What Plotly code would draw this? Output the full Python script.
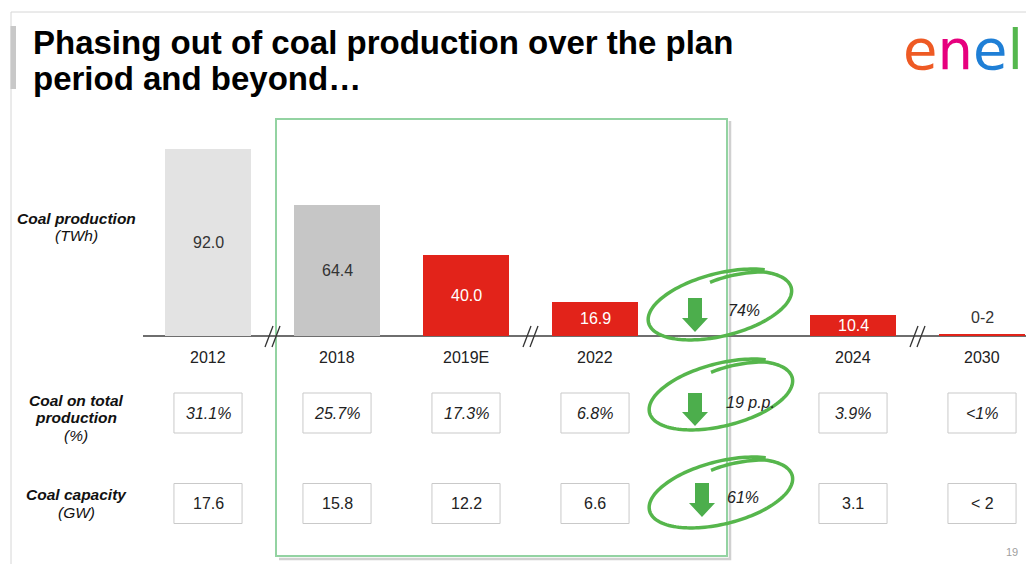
import numpy as np
import plotly.graph_objects as go

# ---------------- data ----------------
categories = ["2012", "2018", "2019E", "2022", "2024", "2030"]
production_twh = [92.0, 64.4, 40.0, 16.9, 10.4, 1.0]
production_labels = ["92.0", "64.4", "40.0", "16.9", "10.4", "0-2"]
coal_share_labels = ["31.1%", "25.7%", "17.3%", "6.8%", "3.9%", "<1%"]
coal_capacity_labels = ["17.6", "15.8", "12.2", "6.6", "3.1", "< 2"]
change_labels = ["74%", "19 p.p.", "61%"]
row_titles = [["<b>Coal production</b>", "(TWh)"],
              ["<b>Coal on total</b>", "<b>production</b>", "(%)"],
              ["<b>Coal capacity</b>", "(GW)"]]
title_lines = ["Phasing out of coal production over the plan", "period and beyond\u2026"]
bar_colors = ["#e3e3e3", "#c6c6c6", "#e2231a", "#e2231a", "#e2231a", "#e2231a"]
label_colors = ["#333333", "#333333", "#ffffff", "#ffffff", "#ffffff", "#333333"]

# ---------------- layout helpers ----------------
W, H = 1026, 564
FONT = "Liberation Sans, Arial, sans-serif"
GREEN = "#56b64c"
X0PX, XSTEP = 208.0, 129.0          # pixel of slot 0, pixels per slot
Y0PX, YSCALE = 336.0, 2.033         # baseline pixel, pixels per TWh

def px(x):
    return x / W

def py(y):
    return 1 - y / H

def note(x, y, text, size=16, color="#222222", xref="paper", yref="paper", xanchor="center", **kw):
    d = dict(x=x, y=y, xref=xref, yref=yref, text=text, showarrow=False,
             xanchor=xanchor, yanchor=kw.pop("yanchor", "middle"),
             font=dict(family=kw.pop("family", FONT), size=size, color=color, **kw.pop("fontkw", {})))
    d.update(kw)
    return d

# slots: one empty slot after 2022 for the change column
slots = [i if i < 4 else i + 1 for i in range(len(categories))]

fig = go.Figure()
fig.add_trace(go.Bar(
    x=slots, y=production_twh, width=0.667,
    marker=dict(color=bar_colors, line=dict(width=0)),
    hoverinfo="skip", showlegend=False,
))

shapes = []
ann = []

# slide frame
shapes.append(dict(type="line", xref="paper", yref="paper", x0=px(11), x1=1, y0=py(12), y1=py(12),
                   line=dict(color="#d6d6d6", width=1), layer="below"))
shapes.append(dict(type="line", xref="paper", yref="paper", x0=px(11), x1=px(11), y0=py(12), y1=0,
                   line=dict(color="#d6d6d6", width=1), layer="below"))
shapes.append(dict(type="rect", xref="paper", yref="paper", x0=px(10.5), x1=px(16), y0=py(89), y1=py(26),
                   fillcolor="#c8c8c8", line=dict(width=0), layer="below"))

# green highlight rectangle with soft shadow
shapes.append(dict(type="path", xref="paper", yref="paper",
                   path=f"M {px(730)},{py(121)} L {px(730)},{py(559)} L {px(279)},{py(559)}",
                   line=dict(color="rgba(120,120,120,0.35)", width=2.5), layer="below"))
shapes.append(dict(type="rect", xref="paper", yref="paper", x0=px(276), x1=px(727), y0=py(556), y1=py(119),
                   line=dict(color="#93d3a2", width=2), layer="below"))

# axis baseline
shapes.append(dict(type="line", xref="x", yref="y", x0=(143 - X0PX) / XSTEP, x1=6.5, y0=0, y1=0,
                   line=dict(color="#6e6e6e", width=2), layer="below"))

# axis break marks "//"
for bx in [0.5, 2.5, 5.5]:
    for off in (-3.5, 3.5):
        shapes.append(dict(type="line", xref="x", yref="y",
                           x0=bx + (off - 4) / XSTEP, x1=bx + (off + 4) / XSTEP,
                           y0=-11 / YSCALE, y1=10 / YSCALE,
                           line=dict(color="#333333", width=1.3), layer="above"))

# bar value labels
for s, v, lab, c in zip(slots, production_twh, production_labels, label_colors):
    if c == "#ffffff" or v > 20:
        ann.append(note(s, v / 2, lab, color=c, xref="x", yref="y"))
    else:
        ann.append(note(s, v, lab, color=c, xref="x", yref="y", yanchor="bottom", yshift=6))

# category labels
for s, cat in zip(slots, categories):
    ann.append(note(s, py(357), cat, xref="x"))

# table rows
BOXW = 0.264
for row_labels, yc, italic in [(coal_share_labels, 413, True), (coal_capacity_labels, 503.5, False)]:
    for s, lab in zip(slots, row_labels):
        shapes.append(dict(type="rect", xref="x", yref="paper", x0=s - BOXW, x1=s + BOXW,
                           y0=py(yc + 20), y1=py(yc - 20),
                           line=dict(color="#c9c9c9", width=1), fillcolor="white", layer="below"))
        ann.append(note(s, py(yc), f"<i>{lab}</i>" if italic else lab, xref="x"))

# row titles
row_title_y = [[218, 235], [400, 417, 435], [494, 512]]
for lines, ys in zip(row_titles, row_title_y):
    for t, yy in zip(lines, ys):
        ann.append(note(px(76), py(yy), f"<i>{t}</i>", size=15.5, color="#111111"))

# hand-drawn loops, arrows and change labels
def loop_path(cx, cy, a=74, b=31, tilt=14):
    t = np.radians(np.linspace(95, -312, 160))
    r = np.interp(np.degrees(t), [-312, 45, 95], [1.03, 0.97, 0.8])
    X = a * r * np.cos(t)
    Y = b * r * np.sin(t)
    ph = np.radians(tilt)
    Xr = X * np.cos(ph) - Y * np.sin(ph)
    Yr = X * np.sin(ph) + Y * np.cos(ph)
    pts = [f"{px(cx + xx):.5f},{py(cy - yy):.5f}" for xx, yy in zip(Xr, Yr)]
    return "M " + " L ".join(pts)

def arrow_path(cx, top, tip):
    head = tip - 14
    p = [(cx - 7, top), (cx + 7, top), (cx + 7, head), (cx + 13, head), (cx, tip),
         (cx - 13, head), (cx - 7, head)]
    return "M " + " L ".join(f"{px(a):.5f},{py(b):.5f}" for a, b in p) + " Z"

loops = [(721, 305, 695, 298, 332, 744, 310),
         (722, 395, 695, 393, 426, 750, 402),
         (722, 493, 702, 483, 517, 743, 497)]
for (cx, cy, ax, atop, atip, tx, ty), lab in zip(loops, change_labels):
    shapes.append(dict(type="path", xref="paper", yref="paper", path=loop_path(cx, cy),
                       line=dict(color=GREEN, width=3.5), layer="above"))
    shapes.append(dict(type="path", xref="paper", yref="paper", path=arrow_path(ax, atop, atip),
                       fillcolor="#4cae4c", line=dict(width=0), layer="above"))
    ann.append(note(px(tx), py(ty), f"<i>{lab}</i>"))

# title
for line, yy in zip(title_lines, [42, 78]):
    ann.append(note(px(31), py(yy), f"<b>{line}</b>", size=33, color="#000000", xanchor="left"))

# logo
logo = ("<span style='color:#ee5a24'>e</span><span style='color:#e6007e'>n</span>"
        "<span style='color:#1f7fd6'>e</span><span style='color:#55b74e'>l</span>")
ann.append(note(px(901), py(50), logo, size=56, color="#999999", xanchor="left",
                family="DejaVu Sans, sans-serif"))

# page number
ann.append(note(px(1012), py(552), "19", size=11, color="#a0a0a0"))

fig.update_layout(
    width=W, height=H, margin=dict(l=0, r=0, t=0, b=0),
    paper_bgcolor="white", plot_bgcolor="white",
    xaxis=dict(range=[-X0PX / XSTEP, (W - X0PX) / XSTEP], visible=False, domain=[0, 1], fixedrange=True),
    yaxis=dict(range=[-(H - Y0PX) / YSCALE, Y0PX / YSCALE], visible=False, domain=[0, 1], fixedrange=True),
    shapes=shapes, annotations=ann, bargap=0,
)

fig.write_html("out.html", config={"displayModeBar": False},
               post_script="document.body.style.margin='0';")
